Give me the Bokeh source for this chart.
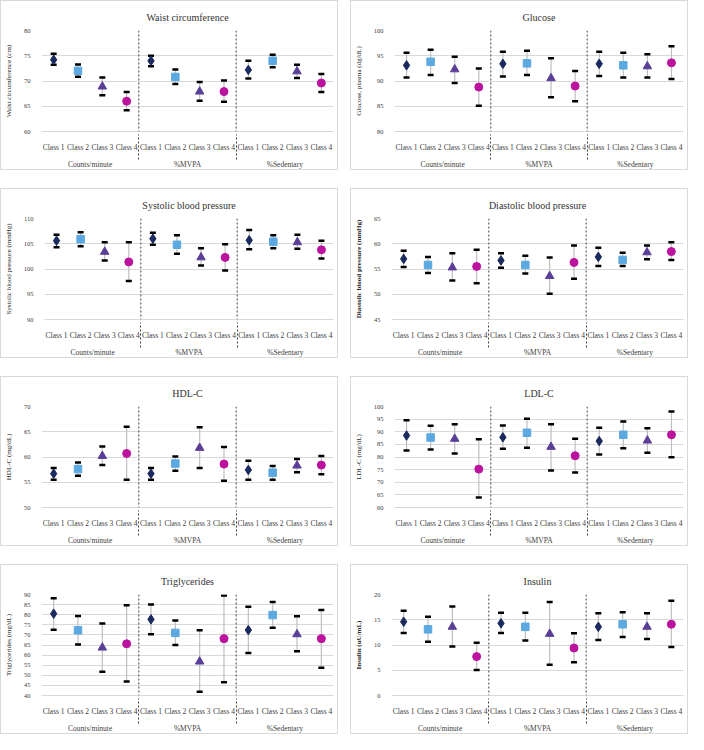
from bokeh.plotting import figure
from bokeh.models import ColumnDataSource, FactorRange, Span, SingleIntervalTicker
from bokeh.layouts import column, row
from bokeh.embed import file_html
from bokeh.resources import INLINE

groups = ["Counts/minute", "%MVPA", "%Sedentary"]
classes = ["Class 1", "Class 2", "Class 3", "Class 4"]
class_colors = ["#1B2A5E", "#5BA9E0", "#5B3E98", "#BC139F"]
class_markers = ["diamond", "square", "triangle", "circle"]
class_sizes = [9.5, 7.5, 8.5, 8]

# Waist circumference (cm)
waist_mean = [74.2, 72.0, 68.9, 66.0, 74.0, 70.8, 67.9, 67.9, 72.2, 74.0, 71.9, 69.6]
waist_lo = [73.2, 70.85, 67.2, 64.2, 72.9, 69.4, 66.1, 65.9, 70.5, 72.7, 70.6, 67.8]
waist_hi = [75.4, 73.25, 70.7, 67.8, 75.0, 72.3, 69.8, 70.1, 74.0, 75.2, 73.2, 71.4]

# Glucose
glu_mean = [93.1, 93.8, 92.3, 88.8, 93.4, 93.5, 90.55, 89.0, 93.4, 93.1, 92.9, 93.6]
glu_lo = [90.7, 91.2, 89.6, 85.1, 90.9, 91.2, 86.8, 86.0, 91.0, 90.7, 90.7, 90.4]
glu_hi = [95.6, 96.2, 94.8, 92.5, 95.8, 96.0, 94.5, 92.0, 95.8, 95.6, 95.3, 96.9]

# Systolic blood pressure
sbp_mean = [105.6, 105.9, 103.4, 101.4, 106.0, 104.8, 102.3, 102.3, 105.7, 105.4, 105.3, 103.8]
sbp_lo = [104.3, 104.5, 101.7, 97.6, 104.8, 103.0, 100.7, 99.7, 103.9, 104.1, 104.0, 102.1]
sbp_hi = [106.8, 107.3, 105.3, 105.3, 107.2, 106.7, 104.1, 104.9, 107.7, 106.7, 106.8, 105.6]

# Diastolic blood pressure
dbp_mean = [57.0, 55.8, 55.3, 55.5, 56.7, 55.8, 53.6, 56.3, 57.4, 56.8, 58.3, 58.45]
dbp_lo = [55.4, 54.2, 52.7, 52.2, 55.25, 54.1, 50.1, 53.05, 55.6, 55.6, 56.95, 56.8]
dbp_hi = [58.6, 57.4, 58.1, 58.8, 58.1, 57.6, 57.3, 59.65, 59.2, 58.2, 59.65, 60.3]

# HDL-C
hdl_mean = [56.7, 57.6, 60.2, 60.7, 56.7, 58.7, 61.8, 58.6, 57.45, 56.9, 58.3, 58.4]
hdl_lo = [55.5, 56.3, 58.4, 55.5, 55.5, 57.3, 57.8, 55.3, 55.5, 55.5, 57.0, 56.6]
hdl_hi = [57.8, 58.9, 62.1, 66.0, 57.8, 60.1, 65.9, 62.0, 59.25, 58.2, 59.6, 60.2]

# LDL-C
ldl_mean = [88.5, 87.7, 87.2, 75.2, 87.8, 89.6, 84.0, 80.5, 86.3, 88.8, 86.5, 88.8]
ldl_lo = [82.6, 83.0, 81.4, 64.0, 83.3, 83.7, 74.7, 73.9, 81.0, 83.5, 81.7, 79.9]
ldl_hi = [94.6, 92.4, 93.0, 87.0, 92.5, 95.1, 93.0, 87.2, 91.6, 94.1, 91.4, 98.0]

# Triglycerides
tg_mean = [80.5, 72.3, 63.7, 65.6, 77.7, 71.0, 56.8, 68.1, 72.4, 79.8, 70.3, 68.1]
tg_lo = [72.6, 65.2, 51.8, 46.9, 70.3, 65.0, 41.8, 46.5, 61.0, 73.5, 61.9, 53.7]
tg_hi = [88.2, 79.4, 75.6, 84.7, 85.0, 77.1, 72.3, 89.5, 83.9, 86.3, 79.2, 82.3]

# Insulin
ins_mean = [14.6, 13.1, 13.6, 7.7, 14.3, 13.6, 12.2, 9.4, 13.6, 14.1, 13.6, 14.1]
ins_lo = [12.4, 10.65, 9.7, 5.05, 12.4, 10.9, 6.1, 6.6, 11.0, 11.6, 11.2, 9.6]
ins_hi = [16.8, 15.6, 17.6, 10.45, 16.4, 16.4, 18.5, 12.35, 16.3, 16.5, 16.3, 18.75]

FONT = "Liberation Serif"
W, H = 338, 170

factors = [(g, c) for g in groups for c in classes]


def make_panel(title, ylabel, ymin, ymax, mean, lo, hi, bold_label=False):
    p = figure(width=W, height=H,
               x_range=FactorRange(*factors, factor_padding=0, group_padding=0,
                                   subgroup_padding=0, range_padding=0),
               y_range=(ymin, ymax), output_backend="svg", toolbar_location=None,
               min_border_left=6, min_border_right=6, min_border_top=4,
               min_border_bottom=4)
    p.styles = {"border": "1px solid #d9d9d9"}
    p.outline_line_color = None
    p.title.text = title
    p.title.align = "center"
    p.title.text_font = FONT
    p.title.text_font_size = "10px"
    p.title.text_font_style = "normal"
    p.title.text_color = "#333333"
    p.title.standoff = 6
    p.title.padding = 5

    src = ColumnDataSource(dict(x=factors, mean=mean, lo=lo, hi=hi,
                                color=class_colors * len(groups),
                                marker=class_markers * len(groups),
                                size=class_sizes * len(groups)))
    p.segment(x0="x", y0="lo", x1="x", y1="hi", source=src,
              line_color="#bfbfbf", line_width=1.2)
    p.scatter(x="x", y="hi", marker="dash", size=6, line_width=2.5,
              line_color="black", source=src)
    p.scatter(x="x", y="lo", marker="dash", size=6, line_width=2.5,
              line_color="black", source=src)
    p.scatter(x="x", y="mean", marker="marker", size="size", fill_color="color",
              line_color="color", source=src)

    for i in range(1, len(groups)):
        p.add_layout(Span(location=len(classes) * i, dimension="height",
                          line_color="#404040", line_width=1, line_dash="2 2"))

    p.xgrid.grid_line_color = None
    p.ygrid.grid_line_color = "#d9d9d9"
    p.yaxis.ticker = SingleIntervalTicker(interval=5)
    p.yaxis.axis_line_color = None
    p.yaxis.major_tick_line_color = None
    p.yaxis.minor_tick_line_color = None
    p.yaxis.major_label_text_font = FONT
    p.yaxis.major_label_text_font_size = "6.5px"
    p.yaxis.major_label_text_color = "#404040"
    p.yaxis.axis_label = ylabel
    p.yaxis.axis_label_text_font = FONT
    p.yaxis.axis_label_text_font_size = "7px"
    p.yaxis.axis_label_text_font_style = "bold" if bold_label else "normal"
    p.yaxis.axis_label_text_color = "#262626"
    p.yaxis.axis_label_standoff = 8

    p.xaxis.axis_line_color = "#d9d9d9"
    p.xaxis.major_tick_line_color = None
    p.xaxis.minor_tick_line_color = None
    p.xaxis.major_label_text_font = FONT
    p.xaxis.major_label_text_font_size = "7.5px"
    p.xaxis.major_label_text_color = "#404040"
    p.xaxis.major_label_orientation = "horizontal"
    p.xaxis.major_label_standoff = 5
    p.xaxis.group_text_font = FONT
    p.xaxis.group_text_font_size = "7.5px"
    p.xaxis.group_text_font_style = "normal"
    p.xaxis.group_text_color = "#404040"
    p.xaxis.separator_line_color = "#404040"
    p.xaxis.separator_line_width = 1
    p.xaxis.separator_line_dash = "2 2"
    return p


p1 = make_panel("Waist circumference", "Waist circumference (cm)", 60, 80,
                waist_mean, waist_lo, waist_hi)
p2 = make_panel("Glucose", "Glucose, plasma (dg/dL)", 80, 100,
                glu_mean, glu_lo, glu_hi)
p3 = make_panel("Systolic blood pressure", "Systolic blood pressure (mmHg)", 90, 110,
                sbp_mean, sbp_lo, sbp_hi)
p4 = make_panel("Diastolic blood pressure", "Diastolic blood pressure (mmHg)", 45, 65,
                dbp_mean, dbp_lo, dbp_hi, bold_label=True)
p5 = make_panel("HDL-C", "HDL-C (mg/dL)", 50, 70, hdl_mean, hdl_lo, hdl_hi)
p6 = make_panel("LDL-C", "LDL-C (mg/dL)", 60, 100, ldl_mean, ldl_lo, ldl_hi)
p7 = make_panel("Triglycerides", "Triglycerides (mg/dL)", 40, 90, tg_mean, tg_lo, tg_hi)
p8 = make_panel("Insulin", "Insulin (uU/mL)", 0, 20, ins_mean, ins_lo, ins_hi,
                bold_label=True)

layout = column(row(p1, p2, spacing=12), row(p3, p4, spacing=12),
                row(p5, p6, spacing=12), row(p7, p8, spacing=12), spacing=18)

open("out.html", "w").write(file_html(layout, INLINE))
